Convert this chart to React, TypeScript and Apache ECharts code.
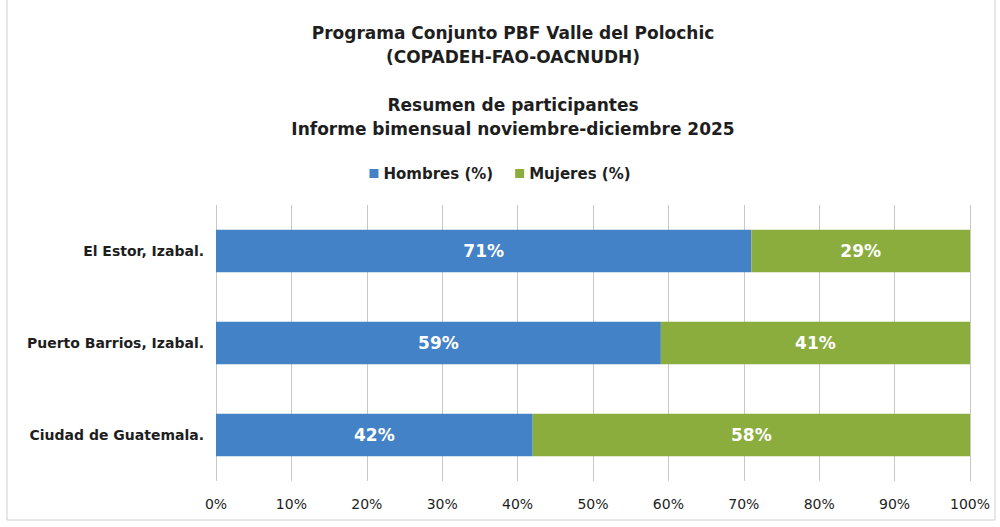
import React, { useEffect, useRef } from "react";
import * as echarts from "echarts";

const categories = ["El Estor, Izabal.", "Puerto Barrios, Izabal.", "Ciudad de Guatemala."];
const hombres = [71, 59, 42];
const mujeres = [29, 41, 58];
const seriesNames = ["Hombres (%)", "Mujeres (%)"];
const titleLines = [
  "Programa Conjunto PBF Valle del Polochic",
  "(COPADEH-FAO-OACNUDH)",
  "",
  "Resumen de participantes",
  "Informe bimensual noviembre-diciembre 2025",
];

const FONT = "'DejaVu Sans', sans-serif";

export default function App() {
  const ref = useRef<HTMLDivElement>(null);
  useEffect(() => {
    if (!ref.current) return;
    const chart = echarts.init(ref.current, null, { renderer: "svg" });
    const labelStyle = {
      show: true,
      position: "inside",
      color: "#ffffff",
      fontSize: 17,
      fontWeight: "bold",
      fontFamily: FONT,
      formatter: (p: any) => `${p.value}%`,
    };
    chart.setOption({
      animation: false,
      backgroundColor: "#ffffff",
      title: {
        text: titleLines.join("\n"),
        left: 508,
        top: 16,
        textAlign: "center",
        textStyle: {
          fontSize: 17,
          fontWeight: "bold",
          color: "#1e1e1e",
          fontFamily: FONT,
          lineHeight: 24,
        },
      },
      legend: {
        data: seriesNames,
        top: 161,
        left: "center",
        itemWidth: 9,
        itemHeight: 9,
        itemGap: 22,
        icon: "rect",
        textStyle: { fontSize: 15, fontWeight: "bold", color: "#1e1e1e", fontFamily: FONT },
      },
      graphic: [
        {
          type: "rect",
          shape: { x: 7, y: -2, width: 988, height: 522 },
          style: { fill: "none", stroke: "#cfcfcf", lineWidth: 1 },
          silent: true,
        },
      ],
      grid: { left: 216, right: 30, top: 205, bottom: 46 },
      xAxis: {
        type: "value",
        min: 0,
        max: 100,
        interval: 10,
        axisLine: { show: false },
        axisTick: { show: false },
        axisLabel: {
          formatter: "{value}%",
          fontSize: 14,
          color: "#1e1e1e",
          fontFamily: FONT,
          margin: 16,
        },
        splitLine: { show: true, lineStyle: { color: "#c8c8c8", width: 1 } },
      },
      yAxis: {
        type: "category",
        data: categories,
        inverse: true,
        axisLine: { show: false },
        axisTick: { show: false },
        axisLabel: {
          fontSize: 14,
          fontWeight: "bold",
          color: "#1e1e1e",
          fontFamily: FONT,
          margin: 12,
        },
      },
      series: [
        {
          name: seriesNames[0],
          type: "bar",
          stack: "total",
          data: hombres,
          barCategoryGap: "54%",
          itemStyle: { color: "#4482c8" },
          label: labelStyle,
        },
        {
          name: seriesNames[1],
          type: "bar",
          stack: "total",
          data: mujeres,
          barCategoryGap: "54%",
          itemStyle: { color: "#8aad3d" },
          label: labelStyle,
        },
      ],
    });
    return () => chart.dispose();
  }, []);
  return (
    <div
      ref={ref}
      style={{ position: "fixed", left: 0, top: 0, width: 1000, height: 527 }}
    />
  );
}
